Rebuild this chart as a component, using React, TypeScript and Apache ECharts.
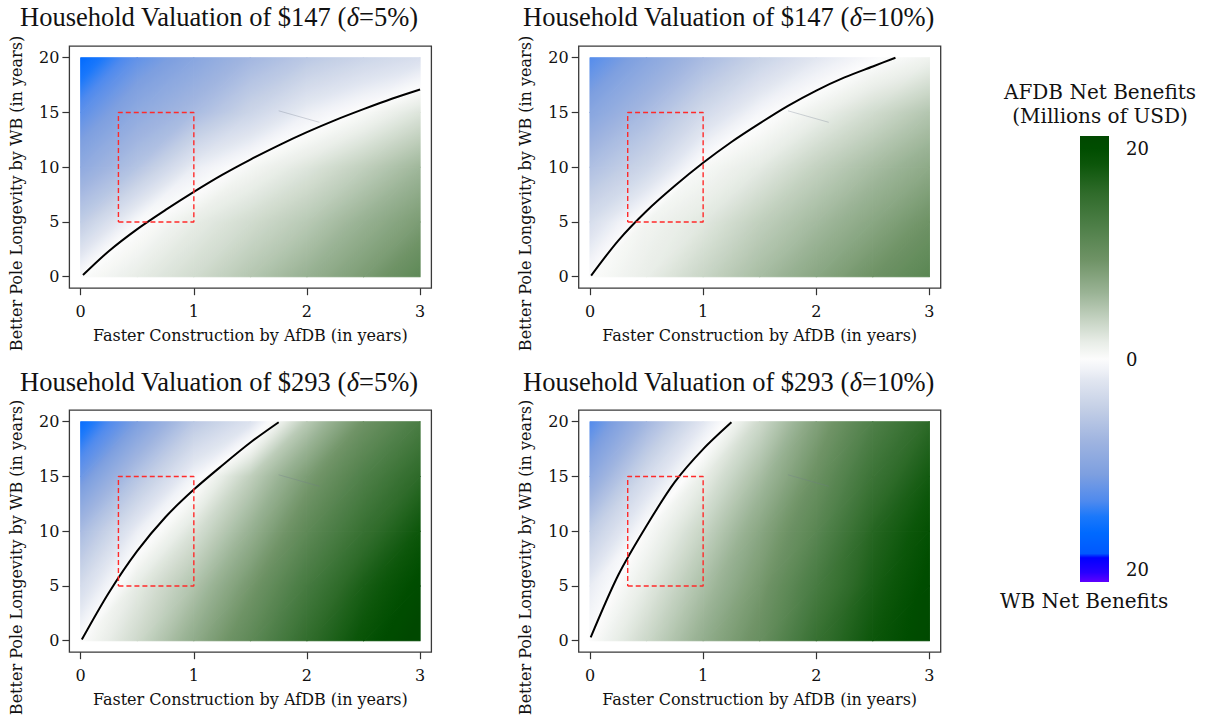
import React, { useEffect, useRef } from "react";
import * as echarts from "echarts";

// ---- data ----
const gridX = [0, 0.5, 1, 1.5, 2, 2.5, 3];
const gridY = [0, 5, 10, 15, 20];

// AfDB net benefits (millions USD), rows = gridY, columns = gridX
const net147d5 = [
  [0, 1.6, 3, 4.7, 6.5, 8.5, 11],
  [-5, -0.3, 1.6, 3, 4.5, 6.5, 8.5],
  [-9.3, -6, -1.5, 0.6, 2.2, 4, 6],
  [-12.8, -9.3, -7, -4, -1.3, 0.3, 2.3],
  [-16.5, -12.5, -10, -7.5, -5.5, -4, -2.8],
];
const net147d10 = [
  [0, 1.5, 3.5, 5.5, 7.5, 9.5, 11.5],
  [-3, 0.8, 2, 4, 5.7, 7.5, 9.5],
  [-6.5, -3.8, 0.4, 1.8, 3.8, 5.5, 7.2],
  [-10, -7, -3.5, -0.6, 1.2, 3, 4.8],
  [-13.2, -10, -7, -4.3, -2, -0.3, 1],
];
const net293d5 = [
  [0, 3.2, 7, 11, 15.5, 19, 22],
  [-3.2, 1.8, 5, 9, 13.5, 17.5, 20.5],
  [-7, -1.3, 2.5, 6.5, 11, 15, 18.5],
  [-12, -6, -0.8, 4, 8.5, 12.5, 16],
  [-16, -11, -5.5, -2.5, 4.5, 9.5, 13],
];
const net293d10 = [
  [0, 3.3, 6.8, 10, 15, 18.5, 21],
  [-1.5, 1.8, 5.3, 8.8, 13.3, 17.5, 20.5],
  [-5, 0.2, 3.6, 7.5, 11.5, 16.5, 19.5],
  [-9.5, -3.3, 1.5, 5.5, 9.8, 14.5, 18],
  [-13.3, -7.5, -2, 3.2, 8, 12.5, 16],
];

// zero contours
const curve147d5 = [[0.02, 0.15], [0.25, 2.35], [0.5, 4.35], [0.75, 6.1], [1, 7.75], [1.25, 9.3], [1.5, 10.7], [1.75, 12], [2, 13.2], [2.25, 14.3], [2.5, 15.3], [2.75, 16.25], [3, 17.1]];
const curve147d10 = [[0.01, 0.1], [0.25, 3.3], [0.5, 6.0], [0.75, 8.3], [1, 10.4], [1.25, 12.3], [1.5, 14.0], [1.75, 15.6], [2, 17.0], [2.25, 18.2], [2.5, 19.2], [2.7, 20]];
const curve293d5 = [[0.01, 0.1], [0.25, 4.4], [0.5, 8.2], [0.75, 11.3], [1, 13.8], [1.25, 16.0], [1.5, 18.1], [1.75, 19.95]];
const curve293d10 = [[0.006, 0.3], [0.25, 6.0], [0.5, 10.5], [0.75, 14.5], [1, 17.5], [1.25, 19.95]];

// region box
const boxX = [1 / 3, 1];
const boxY = [5, 15];
// faint stray segment present in every panel
const straySeg = [[1.75, 15.15], [2.11, 14.1]];

const xTicks = [0, 1, 2, 3];
const yTicks = [0, 5, 10, 15, 20];
const barTicks = [-20, 0, 20];
const barRange = [-21.2, 21.2];

const valuations = ["$147", "$147", "$293", "$293"];
const deltas = ["5%", "10%", "5%", "10%"];
const panelValues = [net147d5, net147d10, net293d5, net293d10];
const panelCurves = [curve147d5, curve147d10, curve293d5, curve293d10];

// ---- styles ----
const CMAP: [number, number[]][] = [
  [-21.3, [100, 0, 255]],
  [-20.3, [40, 0, 255]],
  [-18.9, [0, 0, 255]],
  [-18.5, [0, 88, 255]],
  [-16.5, [0, 106, 255]],
  [-15, [26, 120, 251]],
  [-13.5, [79, 138, 238]],
  [-11, [125, 159, 224]],
  [-7.8, [159, 180, 224]],
  [-4.6, [197, 208, 230]],
  [-2.1, [224, 229, 240]],
  [-1, [240, 242, 247]],
  [0, [252, 252, 252]],
  [1.6, [232, 237, 231]],
  [3.8, [196, 210, 193]],
  [6.3, [154, 179, 149]],
  [9.4, [111, 147, 102]],
  [12.6, [78, 127, 72]],
  [15.8, [47, 107, 42]],
  [18.5, [12, 86, 10]],
  [20, [0, 77, 0]],
  [21.3, [0, 72, 0]],
];
function cmap(v: number): string {
  if (v <= CMAP[0][0]) return `rgb(${CMAP[0][1].join(",")})`;
  for (let i = 1; i < CMAP.length; i++) {
    if (v <= CMAP[i][0]) {
      const [a, ca] = CMAP[i - 1];
      const [b, cb] = CMAP[i];
      const t = (v - a) / (b - a);
      const c = ca.map((x, k) => Math.round(x + (cb[k] - x) * t));
      return `rgb(${c.join(",")})`;
    }
  }
  return `rgb(${CMAP[CMAP.length - 1][1].join(",")})`;
}

function triGradient(P: number[][], V: number[]) {
  const [x1, y1] = P[0];
  const a11 = P[1][0] - x1, a12 = P[1][1] - y1;
  const a21 = P[2][0] - x1, a22 = P[2][1] - y1;
  const b1 = V[1] - V[0], b2 = V[2] - V[0];
  const det = a11 * a22 - a12 * a21;
  const vmin = Math.min(...V), vmax = Math.max(...V);
  if (Math.abs(det) < 1e-9 || vmax - vmin < 1e-6) return cmap(V[0]);
  const gx = (b1 * a22 - a12 * b2) / det;
  const gy = (a11 * b2 - a21 * b1) / det;
  const g2 = gx * gx + gy * gy;
  if (g2 < 1e-12) return cmap(V[0]);
  const s0 = (vmin - V[0]) / g2, s1 = (vmax - V[0]) / g2;
  const N = 14;
  const stops = [];
  for (let i = 0; i < N; i++) {
    const t = i / (N - 1);
    stops.push({ offset: t, color: cmap(vmin + t * (vmax - vmin)) });
  }
  return new echarts.graphic.LinearGradient(x1 + gx * s0, y1 + gy * s0, x1 + gx * s1, y1 + gy * s1, stops, true);
}

const SERIF = "DejaVu Serif";
const TITLE_FONT = "Liberation Serif";
const GRID_W = 362;
const GRID_H = 242;
const gridPos = [
  [69.4, 46.2],
  [578.7, 46.2],
  [69.4, 410.2],
  [578.7, 410.2],
];

function buildCells(vals: number[][]) {
  const cells: number[][] = [];
  for (let j = 0; j < gridY.length - 1; j++) {
    for (let k = 0; k < gridX.length - 1; k++) {
      cells.push([gridX[k], gridY[j], gridX[k + 1], gridY[j + 1], vals[j][k], vals[j][k + 1], vals[j + 1][k], vals[j + 1][k + 1]]);
    }
  }
  return cells;
}

function heatRender(params: any, api: any) {
  const x0 = api.value(0), y0 = api.value(1), x1 = api.value(2), y1 = api.value(3);
  const v00 = api.value(4), v10 = api.value(5), v01 = api.value(6), v11 = api.value(7);
  const p00 = api.coord([x0, y0]);
  const p10 = api.coord([x1, y0]);
  const p01 = api.coord([x0, y1]);
  const p11 = api.coord([x1, y1]);
  const tri = (P: number[][], V: number[]) => ({
    type: "polygon",
    shape: { points: P },
    style: { fill: triGradient(P, V), stroke: triGradient(P, V), lineWidth: 1.1, lineJoin: "round" },
  });
  return {
    type: "group",
    children: [tri([p00, p10, p11], [v00, v10, v11]), tri([p00, p11, p01], [v00, v11, v01])],
  };
}

function barRender(params: any, api: any) {
  const top = api.coord([0, api.value(3)]);
  const bot = api.coord([1, api.value(1)]);
  const lo = barRange[0], hi = barRange[1];
  const stops = CMAP.filter((s) => s[0] >= lo && s[0] <= hi).map((s) => ({
    offset: (hi - s[0]) / (hi - lo),
    color: cmap(s[0]),
  }));
  stops.unshift({ offset: 0, color: cmap(hi) });
  stops.push({ offset: 1, color: cmap(lo) });
  stops.sort((a, b) => a.offset - b.offset);
  return {
    type: "rect",
    shape: { x: top[0], y: top[1], width: bot[0] - top[0], height: bot[1] - top[1] },
    style: { fill: new echarts.graphic.LinearGradient(0, top[1], 0, bot[1], stops, true) },
  };
}

export default function App() {
  const ref = useRef<HTMLDivElement>(null);
  useEffect(() => {
    if (!ref.current) return;
    const chart = echarts.init(ref.current, null, { renderer: "svg" });
    const grids: any[] = gridPos.map(([l, t]) => ({
      left: l, top: t, width: GRID_W, height: GRID_H,
      show: true, borderColor: "#3a3a3a", borderWidth: 1.3, backgroundColor: "#fff",
    }));
    grids.push({ left: 1080, top: 136, width: 29, height: 446, show: false });

    const tickStyle = { color: "#333", width: 1.2 };
    const labelStyle = { fontFamily: SERIF, fontSize: 16, color: "#111" };
    const xAxes: any[] = gridPos.map((_, i) => ({
      gridIndex: i, type: "value", min: -0.1, max: 3.1,
      axisLine: { show: false, onZero: false },
      splitLine: { show: false },
      axisTick: { show: true, customValues: xTicks, length: 7, lineStyle: tickStyle },
      axisLabel: { customValues: xTicks, margin: 15, ...labelStyle },
    }));
    xAxes.push({ gridIndex: 4, type: "value", min: 0, max: 1, show: false });
    const yAxes: any[] = gridPos.map((_, i) => ({
      gridIndex: i, type: "value", min: -1.05, max: 21.05,
      axisLine: { show: false, onZero: false },
      splitLine: { show: false },
      axisTick: { show: true, customValues: yTicks, length: 7, lineStyle: tickStyle },
      axisLabel: { customValues: yTicks, margin: 10, ...labelStyle },
    }));
    yAxes.push({
      gridIndex: 4, type: "value", min: barRange[0], max: barRange[1], position: "right",
      axisLine: { show: false }, axisTick: { show: false }, splitLine: { show: false },
      axisLabel: { customValues: barTicks, formatter: (v: number) => String(Math.abs(v)), margin: 17, fontFamily: SERIF, fontSize: 18, color: "#111" },
    });

    const series: any[] = [];
    panelValues.forEach((vals, i) => {
      series.push({
        type: "custom", xAxisIndex: i, yAxisIndex: i, renderItem: heatRender,
        data: buildCells(vals), encode: { x: [0, 2], y: [1, 3] }, silent: true, z: 1, clip: false,
      });
      series.push({
        type: "line", xAxisIndex: i, yAxisIndex: i, data: straySeg, symbol: "none", silent: true, z: 2,
        lineStyle: { color: "rgba(110,120,140,0.3)", width: 1 },
      });
      series.push({
        type: "line", xAxisIndex: i, yAxisIndex: i, data: panelCurves[i], smooth: 0.3, symbol: "none", silent: true, z: 3,
        lineStyle: { color: "#000", width: 2 },
      });
      series.push({
        type: "line", xAxisIndex: i, yAxisIndex: i, symbol: "none", silent: true, z: 4,
        data: [[boxX[0], boxY[0]], [boxX[1], boxY[0]], [boxX[1], boxY[1]], [boxX[0], boxY[1]], [boxX[0], boxY[0]]],
        lineStyle: { color: "#ff2a2a", width: 1.4, type: [5, 3] },
      });
    });
    series.push({
      type: "custom", xAxisIndex: 4, yAxisIndex: 4, renderItem: barRender, silent: true,
      data: [[0, barRange[0], 1, barRange[1]]], encode: { x: [0, 2], y: [1, 3] },
    });

    const graphic: any[] = [];
    const titlePos = [[20, 17], [523, 17], [20, 382], [523, 382]];
    titlePos.forEach(([x, y], i) => {
      graphic.push({
        type: "text", x, y, silent: true,
        style: {
          text: `Household Valuation of ${valuations[i]} ({d|δ}=${deltas[i]})`,
          fontFamily: TITLE_FONT, fontSize: 26.5, fill: "#111",
          align: "left", verticalAlign: "middle", textAlign: "left", textVerticalAlign: "middle",
          rich: { d: { fontFamily: TITLE_FONT, fontSize: 26.5, fontStyle: "italic", fill: "#111" } },
        },
      });
    });
    const xTitlePos = [[250.3, 335], [759.7, 335], [250.3, 699], [759.7, 699]];
    xTitlePos.forEach(([x, y]) => {
      graphic.push({
        type: "text", x, y, silent: true,
        style: {
          text: "Faster Construction by AfDB (in years)", fontFamily: SERIF, fontSize: 16, fill: "#111",
          align: "center", verticalAlign: "middle", textAlign: "center", textVerticalAlign: "middle",
        },
      });
    });
    const yTitlePos = [[16, 193.5], [525.5, 193.5], [16, 557.5], [525.5, 557.5]];
    yTitlePos.forEach(([x, y]) => {
      graphic.push({
        type: "text", x, y, rotation: Math.PI / 2, silent: true,
        style: {
          text: "Better Pole Longevity by WB (in years)", fontFamily: SERIF, fontSize: 16, fill: "#111",
          align: "center", verticalAlign: "middle", textAlign: "center", textVerticalAlign: "middle",
        },
      });
    });
    const legendText = [
      ["AFDB Net Benefits", 1100, 92, "center"],
      ["(Millions of USD)", 1100, 116, "center"],
      ["WB Net Benefits", 1000, 601, "left"],
    ];
    legendText.forEach(([t, x, y, a]) => {
      graphic.push({
        type: "text", x, y, silent: true,
        style: {
          text: t, fontFamily: SERIF, fontSize: 20, fill: "#111",
          align: a, verticalAlign: "middle", textAlign: a, textVerticalAlign: "middle",
        },
      });
    });

    chart.setOption({
      animation: false,
      backgroundColor: "#fff",
      grid: grids,
      xAxis: xAxes,
      yAxis: yAxes,
      series,
      graphic,
    });
    return () => chart.dispose();
  }, []);
  return (
    <div
      ref={ref}
      style={{ position: "fixed", left: 0, top: 0, width: 1210, height: 715, background: "#fff" }}
    />
  );
}
